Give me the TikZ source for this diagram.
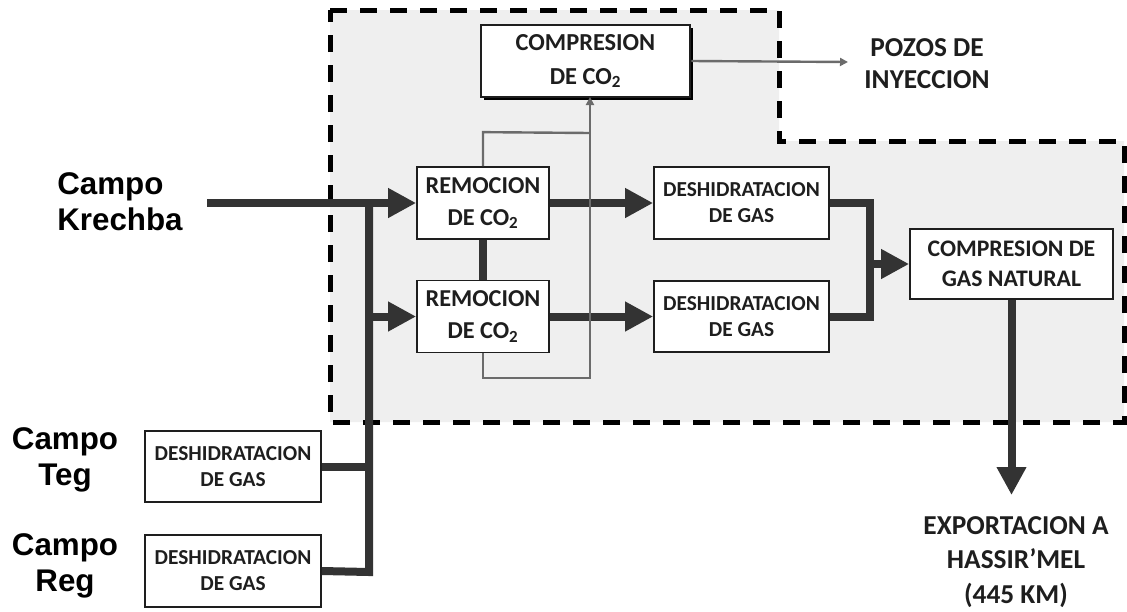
\documentclass[tikz,border=0pt]{standalone}
\usepackage{fontspec}
\setmainfont{Carlito}
\newfontfamily\arialf{Liberation Sans}
\usetikzlibrary{arrows.meta,shadows}
\definecolor{regionfill}{HTML}{EFEFEF}
\definecolor{flowcol}{HTML}{333333}
\definecolor{thincol}{HTML}{6B6B6B}
\definecolor{txtcol}{HTML}{1E1E1E}
\begin{document}
\begin{tikzpicture}[x=0.75pt,y=-0.75pt,
  box/.style={draw=txtcol, line width=1.3pt, fill=white, inner sep=0pt, align=center, text=txtcol, font=\bfseries},
  flow/.style={draw=flowcol, line width=6pt, line join=miter},
  flowarrow/.style={flow, -{Triangle[length=21pt,width=21pt]}},
  thinline/.style={draw=thincol, line width=1.8pt},
  thinarrow/.style={thinline, -{Triangle[length=6pt,width=6pt]}},
  region/.style={draw=black, fill=regionfill, line width=3.75pt, dash pattern=on 13pt off 9.5pt},
  label/.style={inner sep=0pt, align=center, text=txtcol, font=\bfseries},
  field/.style={inner sep=0pt, text=black, font=\arialf\bfseries\fontsize{23.5}{27}\selectfont}
]
\useasboundingbox (0,0) rectangle (1127,611);

% dashed plant region
\path[region] (330,10) -- (779,10) -- (779,141) -- (1124,141) -- (1124,422) -- (330,422) -- cycle;

% boxes
\node[box, line width=2.2pt, minimum width=156.75pt, minimum height=54pt,
      drop shadow={shadow xshift=2.2pt, shadow yshift=-2.2pt, fill=black, opacity=1},
      font=\bfseries\fontsize{18.3}{25.5}\selectfont] (comp) at (585.5,61) {COMPRESION\\DE CO\textsubscript{2}};
\node[box, minimum width=99pt, minimum height=54pt, font=\bfseries\fontsize{18.2}{24}\selectfont] (rem1) at (483,203) {REMOCION\\DE CO\textsubscript{2}};
\node[box, minimum width=99pt, minimum height=54pt, font=\bfseries\fontsize{18.2}{24}\selectfont] (rem2) at (483,316.5) {REMOCION\\DE CO\textsubscript{2}};
\node[box, minimum width=131.25pt, minimum height=54pt, font=\bfseries\fontsize{16}{19.5}\selectfont] (desh1) at (741.5,203) {DESHIDRATACION\\DE GAS};
\node[box, minimum width=131.25pt, minimum height=53.5pt, font=\bfseries\fontsize{16}{19.5}\selectfont] (desh2) at (741.5,316.5) {DESHIDRATACION\\DE GAS};
\node[box, minimum width=152.25pt, minimum height=52.5pt, font=\bfseries\fontsize{17.8}{22.5}\selectfont] (cgn) at (1011.5,264) {COMPRESION DE\\GAS NATURAL};
\node[box, minimum width=132pt, minimum height=53.25pt, font=\bfseries\fontsize{16}{19.5}\selectfont] (teg) at (233,466.5) {DESHIDRATACION\\DE GAS};
\node[box, minimum width=132pt, minimum height=54pt, font=\bfseries\fontsize{16}{19.5}\selectfont] (reg) at (233,571) {DESHIDRATACION\\DE GAS};

% labels
\node[field, align=left, anchor=west] (krechba) at (57,202) {Campo\\Krechba};
\node[field, align=center] (camteg) at (65,460) {Campo\\Teg};
\node[field, align=center] (camreg) at (65,566) {Campo\\Reg};
\node[label, font=\bfseries\fontsize{20.5}{24}\selectfont] (pozos) at (927,64) {POZOS DE\\INYECCION};
\node[label, font=\bfseries\fontsize{20.5}{26}\selectfont] (export) at (1016,562) {EXPORTACION A\\HASSIR’MEL\\(445 KM)};

% coordinates
\coordinate (kin) at (207,203);
\coordinate (jtop) at (369,203);
\coordinate (jbot) at (369,572);
\coordinate (jmid) at (369,316.5);
\coordinate (merge) at (870,264);
\coordinate (expend) at (1012,495);
\coordinate (pozend) at (848,62);

% thick flows
\draw[flowarrow] (kin) -- (rem1.west);
\draw[flow] (reg.east) -- (jbot) -- (jtop);
\draw[flow] (teg.east) -- (teg.east -| jtop);
\draw[flowarrow] (jmid) -- (rem2.west);
\draw[flow] (rem1.south) -- (rem2.north);
\draw[flowarrow] (rem1.east) -- (desh1.west);
\draw[flowarrow] (rem2.east) -- (desh2.west);
\draw[flow] (desh1.east) -- (desh1.east -| merge) -- (desh2.east -| merge) -- (desh2.east);
\draw[flowarrow] (merge) -- (cgn.west);
\draw[flowarrow] (cgn.south) -- (cgn.south |- expend);

% thin CO2 lines
\draw[thinline] (rem1.north) -- ++(0,-34) -- (590,133);
\draw[thinarrow] (rem2.south) -- (483,378) -- (590,378) -- (590,97);
\draw[thinarrow] (comp.east) -- (pozend);
\end{tikzpicture}
\end{document}
